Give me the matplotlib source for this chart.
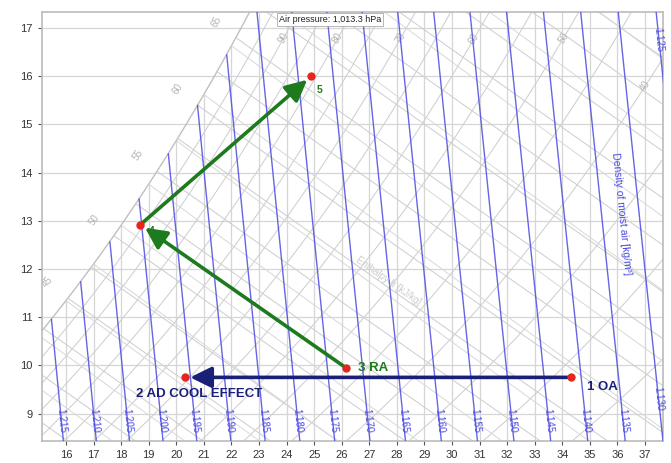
import numpy as np
import matplotlib
matplotlib.use("Agg")
import matplotlib.pyplot as plt

plt.rcParams['font.family'] = ['Liberation Sans', 'DejaVu Sans']

# ---------------- data ----------------
state_labels = ["1 OA", "2 AD COOL EFFECT", "3 RA", "4", "5"]
state_temp = [34.3, 20.3, 26.15, 18.7, 24.9]        # dry bulb [°C]
state_hum = [9.75, 9.75, 9.95, 12.92, 16.0]         # humidity ratio [g/kg]
label_temp = [34.9, 18.55, 26.6, 19.0, 25.1]
label_hum = [9.56, 9.41, 9.95, 12.78, 15.72]

density_values = [1.215, 1.210, 1.205, 1.200, 1.195, 1.190, 1.185, 1.180,
                  1.175, 1.170, 1.165, 1.160, 1.155, 1.150, 1.145, 1.140,
                  1.135, 1.130, 1.125]
rh_values = [95, 90, 85, 80, 75, 70, 65, 60, 55, 50, 45, 40, 35, 30, 25]
rh_labelled = [90, 80, 70, 60, 50, 40]
enthalpy_values = [37.5, 40, 42.5, 45, 47.5, 50, 52.5, 55, 57.5, 60, 62.5, 65,
                   67.5, 70, 72.5, 75, 77.5, 80, 82.5]
enthalpy_labelled = [40, 45, 50, 55, 60, 65]
wetbulb_values = [14, 15, 16, 17, 18, 19, 20, 21, 22, 23, 24, 25, 26, 27, 28]
x_ticks = [16, 17, 18, 19, 20, 21, 22, 23, 24, 25, 26, 27, 28, 29, 30, 31, 32,
           33, 34, 35, 36, 37]
y_ticks = [9, 10, 11, 12, 13, 14, 15, 16, 17]
pressure_kpa = 101.325

XMIN, XMAX, YMIN, YMAX = 15.12, 37.65, 8.43, 17.33

# ---------------- psychrometrics ----------------
def pws(T):
    return 0.61094 * np.exp(17.625 * T / (T + 243.04))

def w_sat(T):
    p = pws(T)
    return 622.0 * p / (pressure_kpa - p)

def w_rh(T, rh):
    p = rh / 100.0 * pws(T)
    return 622.0 * p / (pressure_kpa - p)

def t_density(rho, w):
    wk = w / 1000.0
    return pressure_kpa * 1000 * (1 + wk) / (287.05 * rho * (1 + 1.6078 * wk)) - 273.15

def w_enth(h, T):
    return 1000.0 * (h - 1.006 * T) / (2501 + 1.86 * T)

def w_wetbulb(twb, T):
    ws = w_sat(twb) / 1000.0
    return 1000.0 * ((2501 - 2.326 * twb) * ws - 1.006 * (T - twb)) / (2501 + 1.86 * T - 4.186 * twb)

fig = plt.figure(figsize=(6.71, 4.63), dpi=100)
ax = fig.add_axes([41.7 / 671, 1 - 441 / 463, (663 - 41.7) / 671, (441 - 12) / 463])
ax.set_xlim(XMIN, XMAX)
ax.set_ylim(YMIN, YMAX)

def disp_angle(x0, y0, x1, y1):
    p0 = ax.transData.transform((x0, y0))
    p1 = ax.transData.transform((x1, y1))
    return np.degrees(np.arctan2(p1[1] - p0[1], p1[0] - p0[0]))

GRID = '#d6d6d6'
GRAY = '#cfcfcf'
LABGRAY = '#b4b4b4'
BLUE = '#4a4ae2'

T = np.linspace(XMIN, XMAX, 800)
wsT = w_sat(T)

# horizontal grid
for yv in y_ticks:
    ax.plot([XMIN, XMAX], [yv, yv], color=GRID, lw=0.9, zorder=1)
# vertical grid clipped at saturation
for xv in x_ticks:
    ax.plot([xv, xv], [YMIN, min(w_sat(xv), YMAX)], color=GRID, lw=0.9, zorder=1)

# saturation curve
ax.plot(T, wsT, color='#c0c0c0', lw=1.0, zorder=2)

# relative humidity lines
for rh in rh_values:
    w = w_rh(T, rh)
    ax.plot(T, w, color=GRAY, lw=0.75, zorder=2)
    if rh in rh_labelled:
        inside = np.where(w <= 16.8)[0]
        i = inside[-1]
        if T[i] > XMAX - 0.5:
            i = np.searchsorted(T, XMAX - 0.65)
        j0, j1 = max(i - 5, 0), min(i + 5, len(T) - 1)
        ang = disp_angle(T[j0], w[j0], T[j1], w[j1])
        ax.text(T[i], w[i], f"{rh}", color=LABGRAY, fontsize=7, rotation=ang,
                ha='center', va='center', rotation_mode='anchor', zorder=3)

# enthalpy lines
for h in enthalpy_values:
    w = w_enth(h, T)
    w = np.where(w <= wsT, w, np.nan)
    ax.plot(T, w, color=GRAY, lw=0.75, zorder=2)

# wet bulb lines
for tw in wetbulb_values:
    w = w_wetbulb(tw, T)
    w = np.where((T >= tw) & (w <= wsT + 0.01), w, np.nan)
    ax.plot(T, w, color='#d8d8d8', lw=0.7, zorder=2)

def sat_label(tx, text):
    wy = w_sat(tx)
    if wy > YMAX - 0.25 or tx < XMIN + 0.5:
        return
    ang = disp_angle(tx - 0.1, w_sat(tx - 0.1), tx + 0.1, w_sat(tx + 0.1))
    ax.text(tx - 0.7, wy + 0.35, text, color=LABGRAY, fontsize=7,
            rotation=ang, ha='center', va='center', rotation_mode='anchor', zorder=3)

# enthalpy labels along saturation curve
for h in enthalpy_labelled:
    diff = w_enth(h, T) - wsT
    idx = np.where(np.diff(np.sign(diff)) != 0)[0]
    if len(idx):
        sat_label(T[idx[0]], f"{h}")

# density lines
W = np.linspace(YMIN, YMAX, 400)
for rho in density_values:
    tt = t_density(rho, W)
    ok = W <= w_sat(tt)
    ax.plot(np.where(ok, tt, np.nan), W, color=BLUE, lw=1.0, alpha=0.85, zorder=3)
    if rho >= 1.135:
        wl = 8.85
    elif rho > 1.126:
        wl = 9.3
    else:
        wl = 16.75
    tl = t_density(rho, wl)
    ang = disp_angle(t_density(rho, wl + 0.3), wl + 0.3, t_density(rho, wl - 0.3), wl - 0.3)
    ax.text(tl, wl, f"{rho:.3f}", color=BLUE, fontsize=7, rotation=ang,
            ha='center', va='center', rotation_mode='anchor', zorder=4)

# density caption
wc = 13.15
angc = disp_angle(t_density(1.131, wc + 0.3), wc + 0.3, t_density(1.131, wc - 0.3), wc - 0.3)
ax.text(36.15, wc, "Density of moist air [kg/m³]", color=BLUE, fontsize=7.5,
        rotation=angc, ha='center', va='center', rotation_mode='anchor', zorder=4)

# enthalpy caption (faint)
ang_e = disp_angle(27.0, w_enth(55.0, 27.0), 28.5, w_enth(55.0, 28.5))
ax.text(27.7, 11.75, "Enthalpy h [kJ/kg]", color='#cccccc', fontsize=7,
        rotation=ang_e, ha='center', va='center', rotation_mode='anchor', zorder=3)

# air pressure box
ax.text(0.464, 0.993, "Air pressure: 1,013.3 hPa", transform=ax.transAxes,
        fontsize=6.5, ha='center', va='top', color='#222222', zorder=6,
        bbox=dict(boxstyle='square,pad=0.25', fc='white', ec='#aaaaaa', lw=0.6))

# process arrows
NAVY = '#1a1f78'
GREEN = '#1d7a1d'
arrow_pairs = [(0, 1, NAVY), (2, 3, GREEN), (3, 4, GREEN)]
for a, b, col in arrow_pairs:
    ax.annotate('', xy=(state_temp[b], state_hum[b]), xytext=(state_temp[a], state_hum[a]),
                arrowprops=dict(arrowstyle='-|>,head_length=0.65,head_width=0.32', color=col,
                                lw=2.6, shrinkA=0, shrinkB=4, mutation_scale=20),
                zorder=7)

ax.plot(state_temp, state_hum, 'o', color='#e52520', ms=6, zorder=8, mec='none')

label_colors = [NAVY, NAVY, GREEN, GREEN, GREEN]
label_sizes = [9.5, 9.5, 9.5, 7.5, 7.5]
for lab, tx, wy, c, s in zip(state_labels, label_temp, label_hum, label_colors, label_sizes):
    ax.text(tx, wy, lab, color=c, fontsize=s, fontweight='bold', ha='left', va='center', zorder=9)

# axes styling
ax.set_xticks(x_ticks)
ax.set_yticks(y_ticks)
ax.tick_params(axis='both', labelsize=8, colors='#555555', length=3, width=0.8, labelcolor='#333333')
for sp in ax.spines.values():
    sp.set_color('#bbbbbb')
    sp.set_linewidth(1.2)

fig.savefig("out.png", dpi=100)
